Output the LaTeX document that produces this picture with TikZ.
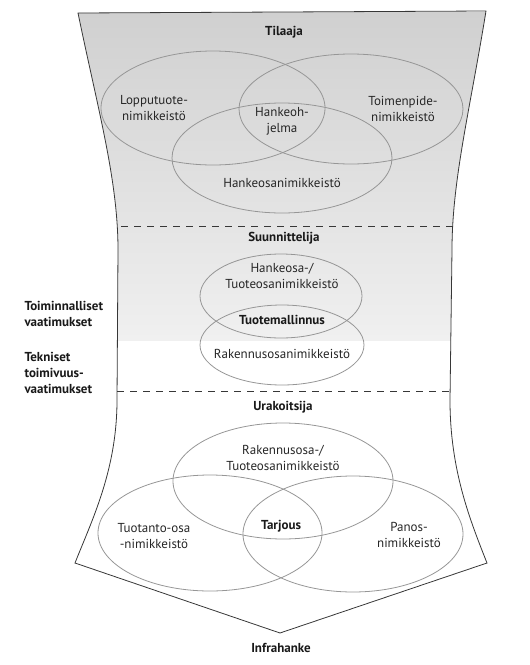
\documentclass[tikz,border=0pt]{standalone}
\usepackage{fontspec}
\setmainfont{PT Sans}
\usetikzlibrary{shapes.geometric}
\definecolor{topgray}{RGB}{208,208,208}
\definecolor{midgray}{RGB}{240,240,240}
\definecolor{ringgray}{RGB}{150,150,150}
\definecolor{edgegray}{RGB}{55,55,55}
\tikzset{
  ring/.style={draw=ringgray, line width=0.8pt, ellipse, inner sep=0pt},
  lbl/.style={align=center, font=\fontsize{13}{16}\selectfont, text=black!85},
  blbl/.style={align=center, font=\fontsize{13}{16}\selectfont\bfseries, text=black!90},
  sidelbl/.style={align=left, anchor=west, font=\fontsize{13}{16}\selectfont\bfseries, text=black!90},
  divider/.style={draw=edgegray, dashed, dash pattern=on 7pt off 6pt, line width=0.8pt},
}
\begin{document}
\begin{tikzpicture}[x=1pt,y=-1pt]
\useasboundingbox (0,0) rectangle (530,665);
\def\outline{(78,13) -- (486,11) .. controls (470,110) and (452,180) .. (452,250) -- (450,400) .. controls (450,470) and (470,520) .. (487,563) -- (280,633) -- (75,563) .. controls (92,520) and (117,470) .. (117,400) -- (118,250) .. controls (118,180) and (98,110) .. (78,13) -- cycle}
\begin{scope}
  \clip \outline;
  \shade[top color=topgray, bottom color=midgray] (0,12) rectangle (530,340);
\end{scope}
\draw[draw=edgegray, line width=0.8pt] \outline;
% dividers
\coordinate (d1l) at (121,226); \coordinate (d1r) at (453,226);
\coordinate (d2l) at (117,391); \coordinate (d2r) at (450,391);
\draw[divider] (d1l) -- (d1r);
\draw[divider] (d2l) -- (d2r);
% top venn
\node[ring, minimum width=224pt, minimum height=114pt] (e1) at (213,108) {};
\node[ring, minimum width=224pt, minimum height=110pt] (e2) at (351,109) {};
\node[ring, minimum width=220pt, minimum height=110pt] (e3) at (282,158) {};
\node[blbl] (tilaaja) at (284,32) {Tilaaja};
\node[lbl] (lop) at (154,108) {Lopputuote-\\nimikkeistö};
\node[lbl] (hoh) at (282,121) {Hankeoh-\\jelma};
\node[lbl] (toim) at (403,109) {Toimenpide-\\nimikkeistö};
\node[lbl] (hos) at (282,183) {Hankeosanimikkeistö};
% middle
\node[blbl] (suun) at (284,238) {Suunnittelija};
\node[ring, minimum width=162pt, minimum height=84pt] (m1) at (281,296) {};
\node[ring, minimum width=164pt, minimum height=80pt] (m2) at (282,345) {};
\node[lbl] (htos) at (282,276) {Hankeosa-/\\Tuoteosanimikkeistö};
\node[blbl] (tm) at (282,320) {Tuotemallinnus};
\node[lbl] (ros) at (282,354) {Rakennusosanimikkeistö};
\node[sidelbl] (toimv) at (21,314) {Toiminnalliset\\vaatimukset};
\node[sidelbl] (tekn) at (21,373) {Tekniset\\toimivuus-\\vaatimukset};
% bottom venn
\node[blbl] (urak) at (283,407) {Urakoitsija};
\node[ring, minimum width=220pt, minimum height=116pt] (b1) at (283,481) {};
\node[ring, minimum width=224pt, minimum height=116pt] (b2) at (210,533) {};
\node[ring, minimum width=220pt, minimum height=116pt] (b3) at (353,534) {};
\node[lbl] (rtos) at (283,458) {Rakennusosa-/\\Tuoteosanimikkeistö};
\node[lbl] (tos) at (154,536) {Tuotanto-osa\\-nimikkeistö};
\node[blbl] (tarj) at (281,526) {Tarjous};
\node[lbl] (pan) at (409,535) {Panos-\\nimikkeistö};
\node[blbl] (infra) at (281,648) {Infrahanke};
\end{tikzpicture}
\end{document}
